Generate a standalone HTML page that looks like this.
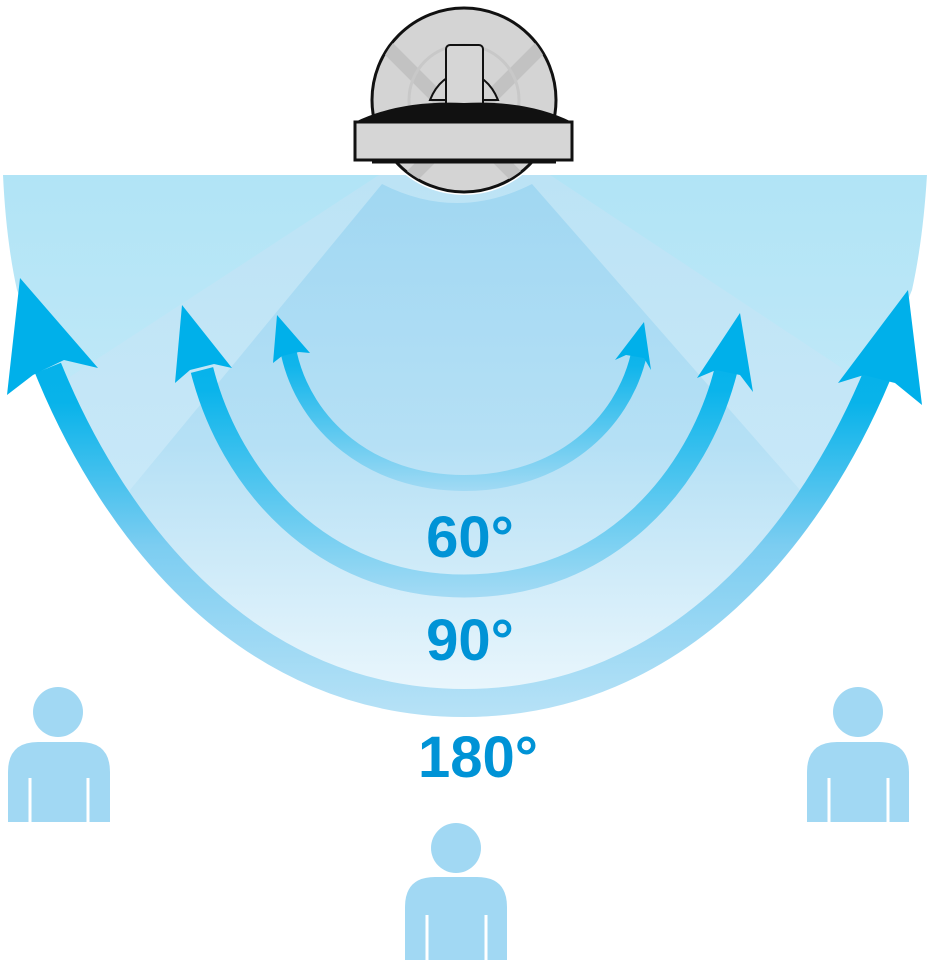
<!DOCTYPE html>
<html><head><meta charset="utf-8"><style>html,body{margin:0;padding:0;background:#fff;}svg{display:block}</style></head>
<body>
<svg width="929" height="960" viewBox="0 0 929 960" xmlns="http://www.w3.org/2000/svg">
<defs>
  <linearGradient id="bg" x1="0" y1="175" x2="0" y2="715" gradientUnits="userSpaceOnUse">
    <stop offset="0" stop-color="#b1e4f6"/>
    <stop offset="0.5" stop-color="#c2e9f8"/>
    <stop offset="1" stop-color="#f2fafe"/>
  </linearGradient>
  <linearGradient id="mid" x1="0" y1="175" x2="0" y2="715" gradientUnits="userSpaceOnUse">
    <stop offset="0" stop-color="#bce3f5"/>
    <stop offset="0.6" stop-color="#c8e8f8"/>
    <stop offset="1" stop-color="#f2fafe"/>
  </linearGradient>
  <linearGradient id="inn" x1="0" y1="175" x2="0" y2="715" gradientUnits="userSpaceOnUse">
    <stop offset="0" stop-color="#a0d7f2"/>
    <stop offset="0.5" stop-color="#b5e0f5"/>
    <stop offset="1" stop-color="#eef8fd"/>
  </linearGradient>
  <linearGradient id="ar" x1="0" y1="300" x2="0" y2="710" gradientUnits="userSpaceOnUse">
    <stop offset="0" stop-color="#00b0ea"/>
    <stop offset="0.25" stop-color="#08b3ea"/>
    <stop offset="0.6" stop-color="#7ccdf1"/>
    <stop offset="1" stop-color="#b5e1f6"/>
  </linearGradient>
  <linearGradient id="ar2" x1="0" y1="300" x2="0" y2="600" gradientUnits="userSpaceOnUse">
    <stop offset="0" stop-color="#00b0ea"/>
    <stop offset="0.3" stop-color="#0ab4eb"/>
    <stop offset="1" stop-color="#a6dbf4"/>
  </linearGradient>
  <linearGradient id="ar3" x1="0" y1="310" x2="0" y2="495" gradientUnits="userSpaceOnUse">
    <stop offset="0" stop-color="#00b0ea"/>
    <stop offset="0.3" stop-color="#10b5eb"/>
    <stop offset="1" stop-color="#a6dbf4"/>
  </linearGradient>
  <clipPath id="fillclip">
    <path d="M3 175 L927 175 Q 923 240 912 290 L880 368 C 830 533, 678 717, 464 717 C 250 717, 98 533, 48 368 L17 290 Q 6 240 3 175 Z"/>
  </clipPath>
  <clipPath id="dev">
    <circle cx="464" cy="100" r="91"/>
  </clipPath>
</defs>

<g clip-path="url(#fillclip)">
  <rect x="0" y="170" width="929" height="560" fill="url(#bg)"/>
  <polygon points="379,175 550,175 860,380 840,720 90,720 68,378" fill="url(#mid)"/>
  <path d="M382 184 Q 457 222 532 184 L 800 490 L 800 720 L 130 720 L 130 490 Z" fill="url(#inn)"/>
</g>

<g fill="none" stroke-linecap="butt">
  <path d="M48 368 C 115 533, 250 703, 464 703 C 678 703, 813 533, 880 368" stroke="url(#ar)" stroke-width="28"/>
  <path d="M202 370 C 230 480, 320 586, 464 586 C 608 586, 698 480, 726 370" stroke="url(#ar2)" stroke-width="23"/>
  <path d="M289 354 C 305 425, 370 483, 464 483 C 558 483, 623 425, 639 354" stroke="url(#ar3)" stroke-width="16"/>
</g>
<g fill="#00b0ea">
  <polygon points="20,278 98,368 64,360 33,375 7,395"/>
  <polygon points="908,290 922,405 895,383 864,375 838,383"/>
  <polygon points="182,305 232,368 214,364 190,370 175,383"/>
  <polygon points="740,313 753,392 740,375 716,370 697,378"/>
  <polygon points="277,315 310,353 299,352 282,356 273,363"/>
  <polygon points="644,322 651,370 644,358 626,355 615,360"/>
</g>

<g font-family="'Liberation Sans', sans-serif" font-weight="bold" font-size="58" fill="#0093d6" text-anchor="middle">
  <text x="470" y="557">60°</text>
  <text x="470" y="660">90°</text>
  <text x="478" y="777">180°</text>
</g>

<g>
  <circle cx="464" cy="100" r="95" fill="#fff"/>
  <circle cx="464" cy="100" r="92" fill="#d4d4d4" stroke="#111" stroke-width="3"/>
  <g clip-path="url(#dev)">
    <g stroke="#c2c2c2" stroke-width="14" fill="none">
      <line x1="380" y1="40" x2="540" y2="200"/>
      <line x1="548" y1="40" x2="388" y2="200"/>
    </g>
    <circle cx="464" cy="100" r="55" fill="none" stroke="#c8c8c8" stroke-width="3"/>
  </g>
  <path d="M430 100 Q 440 75 464 72 Q 488 75 498 100 Z" fill="#d4d4d4" stroke="#111" stroke-width="2"/>
  <rect x="446" y="45" width="37" height="62" rx="4" fill="#d6d6d6" stroke="#111" stroke-width="2"/>
  <path d="M355 122 Q 400 100 464 103 Q 528 100 572 122 Z" fill="#111"/>
  <rect x="355" y="122" width="217" height="38" fill="#d6d6d6" stroke="#111" stroke-width="3"/>
  <path d="M372 162 L556 162" stroke="#111" stroke-width="3"/>
</g>

<g fill="#a1d8f3">
  <circle cx="58" cy="712" r="25"/>
  <path d="M8 822 L8 772 Q 8 742 38 742 L80 742 Q 110 742 110 772 L110 822 Z"/>
  <circle cx="858" cy="712" r="25"/>
  <path d="M807 822 L807 772 Q 807 742 837 742 L879 742 Q 909 742 909 772 L909 822 Z"/>
  <circle cx="456" cy="848" r="25"/>
  <path d="M405 960 L405 907 Q 405 877 435 877 L477 877 Q 507 877 507 907 L507 960 Z"/>
</g>
<g stroke="#fff" stroke-width="3">
  <line x1="30" y1="778" x2="30" y2="823"/>
  <line x1="88" y1="778" x2="88" y2="823"/>
  <line x1="829" y1="778" x2="829" y2="823"/>
  <line x1="888" y1="778" x2="888" y2="823"/>
  <line x1="427" y1="915" x2="427" y2="960"/>
  <line x1="486" y1="915" x2="486" y2="960"/>
</g>
</svg>
</body></html>
